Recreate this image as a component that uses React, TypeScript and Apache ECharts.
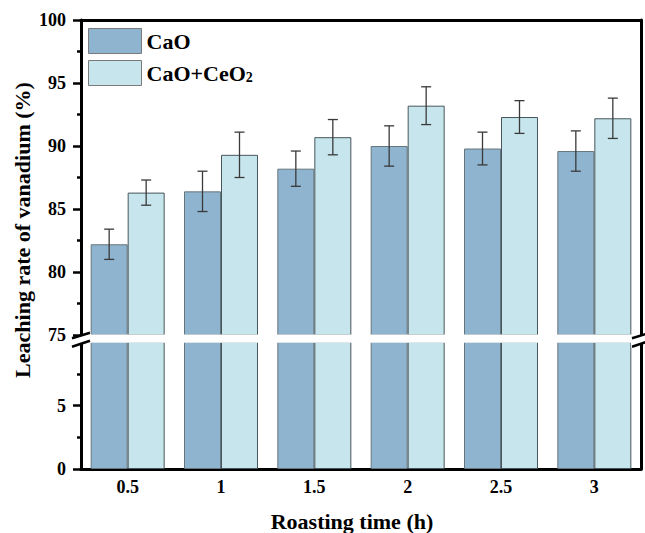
import React, { useEffect, useRef } from "react";
import * as echarts from "echarts";

const categories = ["0.5", "1", "1.5", "2", "2.5", "3"];
const caoValues = [82.2, 86.4, 88.2, 90.0, 89.8, 89.6];
const caoErrors = [1.2, 1.6, 1.4, 1.6, 1.3, 1.6];
const ceoValues = [86.3, 89.3, 90.7, 93.2, 92.3, 92.2];
const ceoErrors = [1.0, 1.8, 1.4, 1.5, 1.3, 1.6];
const seriesNames = ["CaO", "CaO+CeO2"];
const upperRange = [75, 100];
const lowerRange = [0, 10];

const FONT = "Liberation Serif";
const BAR_W = 37;
const CAO_COLOR = "#8fb4cf";
const CEO_COLOR = "#c7e5ec";

export default function App() {
  const ref = useRef<HTMLDivElement>(null);
  useEffect(() => {
    if (!ref.current) return;
    const chart = echarts.init(ref.current, undefined, { renderer: "svg" });

    const axisLine = { show: true, lineStyle: { color: "#000", width: 3 } };
    const labelStyle = { fontFamily: FONT, fontWeight: "bold" as const, fontSize: 18, color: "#000" };

    const makeErr = (vals: number[], errs: number[], offset: number) => ({
      type: "custom",
      xAxisIndex: 0,
      yAxisIndex: 0,
      z: 10,
      data: vals.map((v, i) => [i, v - errs[i], v + errs[i]]),
      renderItem: (params: any, api: any) => {
        const i = api.value(0);
        const lo = api.coord([i, api.value(1)]);
        const hi = api.coord([i, api.value(2)]);
        const x = lo[0] + offset;
        const cap = 5;
        const style = { stroke: "#3a3a3a", lineWidth: 1.3 };
        return {
          type: "group",
          children: [
            { type: "line", shape: { x1: x, y1: lo[1], x2: x, y2: hi[1] }, style },
            { type: "line", shape: { x1: x - cap, y1: hi[1], x2: x + cap, y2: hi[1] }, style },
            { type: "line", shape: { x1: x - cap, y1: lo[1], x2: x + cap, y2: lo[1] }, style },
          ],
        };
      },
    });

    const barSeries = (name: string, data: number[], color: string, border: string, xi: number, yi: number) => ({
      type: "bar",
      name,
      data,
      xAxisIndex: xi,
      yAxisIndex: yi,
      barWidth: BAR_W,
      barGap: "0%",
      clip: true,
      itemStyle: { color, borderColor: border, borderWidth: 1 },
    });

    const slash = (cx: number) => [
      {
        type: "polygon",
        z: 100,
        shape: { points: [[cx - 10, 338.8], [cx + 10, 332.4], [cx + 10, 340.6], [cx - 10, 347.2]] },
        style: { fill: "#fff" },
      },
      {
        type: "line",
        z: 101,
        shape: { x1: cx - 9, y1: 338.3, x2: cx + 9, y2: 332.7 },
        style: { stroke: "#000", lineWidth: 2.5 },
      },
      {
        type: "line",
        z: 101,
        shape: { x1: cx - 9, y1: 346.7, x2: cx + 9, y2: 340.7 },
        style: { stroke: "#000", lineWidth: 2.5 },
      },
    ];

    const legendText = { fontFamily: FONT, fontWeight: "bold" as const, fontSize: 22, color: "#000" };

    chart.setOption({
      animation: false,
      backgroundColor: "#fff",
      grid: [
        { left: 81, right: 4, top: 20, height: 315, outerBoundsMode: "none" },
        { left: 81, right: 4, top: 342, height: 127, outerBoundsMode: "none" },
      ],
      legend: {
        orient: "vertical",
        left: 83,
        top: 23,
        itemWidth: 53,
        itemHeight: 25,
        itemGap: 5,
        icon: "rect",
        data: seriesNames,
        itemStyle: { borderColor: "#7a7a7a", borderWidth: 1 },
        formatter: (name: string) => (name === "CaO+CeO2" ? "{n|CaO+CeO}{sub|2}" : "{n|" + name + "}"),
        textStyle: {
          ...legendText,
          rich: {
            n: { ...legendText, lineHeight: 22, verticalAlign: "top" },
            sub: {
              fontFamily: FONT,
              fontWeight: "bold",
              fontSize: 14,
              lineHeight: 14,
              color: "#000",
              verticalAlign: "bottom",
              padding: [11, 0, 0, 0],
            },
          },
        },
      },
      xAxis: [
        {
          type: "category",
          gridIndex: 0,
          data: categories,
          position: "top",
          axisLine,
          axisTick: { show: false },
          axisLabel: { show: false },
        },
        {
          type: "category",
          gridIndex: 1,
          data: categories,
          position: "bottom",
          axisLine,
          axisTick: { show: false },
          axisLabel: { ...labelStyle, margin: 9 },
        },
      ],
      yAxis: [
        {
          type: "value",
          gridIndex: 0,
          min: upperRange[0],
          max: upperRange[1],
          interval: 5,
          axisLine,
          axisTick: { show: true, length: 8, lineStyle: { color: "#000", width: 2.5 } },
          minorTick: { show: true, splitNumber: 2, length: 4, lineStyle: { color: "#000", width: 2.5 } },
          splitLine: { show: false },
          axisLabel: { ...labelStyle, margin: 15 },
        },
        {
          type: "value",
          gridIndex: 0,
          position: "right",
          min: upperRange[0],
          max: upperRange[1],
          interval: 5,
          axisLine,
          axisTick: { show: false },
          splitLine: { show: false },
          axisLabel: { show: false },
        },
        {
          type: "value",
          gridIndex: 1,
          min: lowerRange[0],
          max: lowerRange[1],
          interval: 5,
          axisLine,
          axisTick: { show: true, length: 8, lineStyle: { color: "#000", width: 2.5 } },
          minorTick: { show: true, splitNumber: 2, length: 4, lineStyle: { color: "#000", width: 2.5 } },
          splitLine: { show: false },
          axisLabel: { ...labelStyle, margin: 15, showMaxLabel: false },
        },
        {
          type: "value",
          gridIndex: 1,
          position: "right",
          min: lowerRange[0],
          max: lowerRange[1],
          interval: 5,
          axisLine,
          axisTick: { show: false },
          splitLine: { show: false },
          axisLabel: { show: false },
        },
      ],
      series: [
        barSeries(seriesNames[0], caoValues, CAO_COLOR, "#66757b", 0, 0),
        barSeries(seriesNames[1], ceoValues, CEO_COLOR, "#46565c", 0, 0),
        barSeries(seriesNames[0], caoValues, CAO_COLOR, "#66757b", 1, 2),
        barSeries(seriesNames[1], ceoValues, CEO_COLOR, "#46565c", 1, 2),
        makeErr(caoValues, caoErrors, -BAR_W / 2),
        makeErr(ceoValues, ceoErrors, BAR_W / 2),
      ],
      graphic: [
        {
          type: "rect",
          z: 90,
          shape: { x: 83, y: 334.5, width: 556, height: 8.2 },
          style: { fill: "#fff" },
        },
        ...slash(81),
        ...slash(641),
        {
          type: "text",
          z: 50,
          x: 22,
          y: 230,
          rotation: Math.PI / 2,
          style: {
            text: "Leaching rate of vanadium (%)",
            fontFamily: FONT,
            fontWeight: "bold",
            fontSize: 22,
            fill: "#000",
            align: "center",
            verticalAlign: "middle",
          },
        },
        {
          type: "text",
          z: 50,
          x: 352,
          y: 521,
          style: {
            text: "Roasting time (h)",
            fontFamily: FONT,
            fontWeight: "bold",
            fontSize: 22,
            fill: "#000",
            align: "center",
            verticalAlign: "middle",
          },
        },
      ],
    });
    return () => chart.dispose();
  }, []);
  return (
    <div
      ref={ref}
      style={{ position: "fixed", left: 0, top: 0, width: 645, height: 533, background: "#fff" }}
    />
  );
}
